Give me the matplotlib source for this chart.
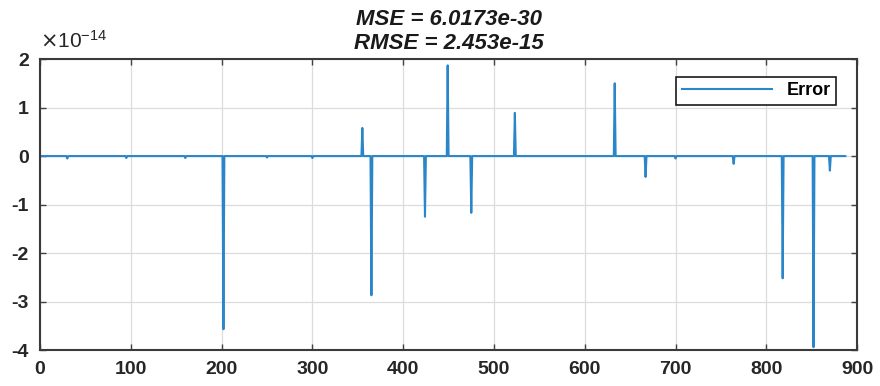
import numpy as np
import matplotlib
matplotlib.use("Agg")
import matplotlib.pyplot as plt
from matplotlib.ticker import FuncFormatter

plt.rcParams['font.family'] = ['Liberation Sans', 'DejaVu Sans']
plt.rcParams['axes.unicode_minus'] = False

# error samples, 0..887; non-zero entries (units of 1e-14)
n_samples = 888
spike_idx = [30, 95, 160, 202, 250, 300, 355, 365, 424, 449, 475, 523, 633, 667,
             700, 764, 818, 852, 870]
spike_val = [-0.05, -0.04, -0.04, -3.57, -0.03, -0.04, 0.58, -2.87, -1.25, 1.87, -1.17,
             0.89, 1.50, -0.43, -0.05, -0.16, -2.52, -3.94, -0.30]

mse_text = "MSE = 6.0173e-30"
rmse_text = "RMSE = 2.453e-15"
x_ticks = [0, 100, 200, 300, 400, 500, 600, 700, 800, 900]
y_ticks = [-4e-14, -3e-14, -2e-14, -1e-14, 0, 1e-14, 2e-14]

err = np.zeros(n_samples)
err[spike_idx] = np.array(spike_val) * 1e-14

fig = plt.figure(figsize=(8.8, 3.86), dpi=100)
ax = fig.add_axes([0.0455, 0.093, 0.9285, 0.754])

ax.plot(np.arange(n_samples), err, color='#2a86c8', lw=1.5, label='Error')

ax.set_xlim(0, 900)
ax.set_ylim(-4e-14, 2e-14)
ax.set_xticks(x_ticks)
ax.set_yticks(y_ticks)
ax.yaxis.set_major_formatter(FuncFormatter(lambda v, p: "%g" % round(v / 1e-14, 6)))
ax.text(0.0, 1.025, r"$\times\mathregular{10^{-14}}$", transform=ax.transAxes,
        fontsize=15, color='#262626', ha='left', va='bottom')

ax.grid(True, color='#dcdcdc', lw=0.9)
ax.tick_params(direction='in', top=True, right=True, length=4, width=1,
               colors='#404040', labelcolor='#262626', labelsize=14)
ax.tick_params(axis='x', pad=8)
ax.tick_params(axis='y', pad=8)
for lab in ax.get_xticklabels() + ax.get_yticklabels():
    lab.set_fontweight('bold')
for s in ax.spines.values():
    s.set_color('#3a3a3a')
    s.set_linewidth(1.5)

ax.set_title(mse_text + "\n" + rmse_text, fontsize=16, fontweight='bold',
             style='italic', color='#1a1a1a', pad=7, linespacing=1.2)

leg = ax.legend(loc='upper right', bbox_to_anchor=(0.985, 0.97), fancybox=False,
                edgecolor='#1a1a1a', framealpha=1, handlelength=5,
                prop={'weight': 'bold', 'size': 13}, borderpad=0.3)
leg.get_frame().set_linewidth(1.2)

fig.savefig("out.png", dpi=100)
